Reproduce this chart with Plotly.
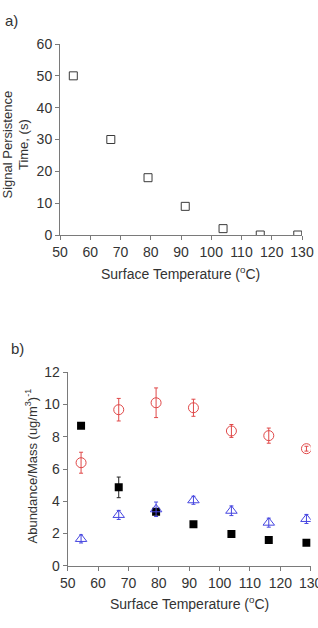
import plotly.graph_objects as go

# Data
temps = [54.4, 66.8, 79.1, 91.4, 103.9, 116.2, 128.6]
persistence = [50, 30, 18, 9, 2, 0, 0]

red_vals = [6.39, 9.68, 10.11, 9.80, 8.36, 8.07, 7.26]
red_err = [0.65, 0.70, 0.92, 0.53, 0.40, 0.47, 0.15]
black_vals = [8.69, 4.86, 3.35, 2.57, 1.97, 1.59, 1.43]
black_err = [0.0, 0.64, 0.15, 0.0, 0.0, 0.0, 0.0]
blue_vals = [1.66, 3.15, 3.50, 4.06, 3.41, 2.67, 2.90]
blue_err = [0.25, 0.28, 0.45, 0.25, 0.30, 0.28, 0.28]

x_ticks = [50, 60, 70, 80, 90, 100, 110, 120, 130]
y1_ticks = [0, 10, 20, 30, 40, 50, 60]
y2_ticks = [0, 2, 4, 6, 8, 10, 12]

W, H = 318, 628
FONT = "Liberation Sans, Arial, sans-serif"
TXT = "#333333"
AX = "#7a7a7a"
RED = "#e04848"
BLUE = "#4646e0"

fig = go.Figure()

fig.add_trace(go.Scatter(
    x=temps, y=persistence, mode="markers", xaxis="x", yaxis="y",
    marker=dict(symbol="square-open", size=8, color="#3a3a3a", line=dict(width=1, color="#3a3a3a")),
    showlegend=False))

fig.add_trace(go.Scatter(
    x=temps, y=red_vals, mode="markers", xaxis="x2", yaxis="y2",
    error_y=dict(type="data", array=red_err, color=RED, thickness=1, width=2),
    marker=dict(symbol="circle-open", size=10, color=RED, line=dict(width=1, color=RED)),
    showlegend=False))

fig.add_trace(go.Scatter(
    x=temps, y=black_vals, mode="markers", xaxis="x2", yaxis="y2",
    error_y=dict(type="data", array=black_err, color="#222222", thickness=1, width=2),
    marker=dict(symbol="square", size=8, color="#000000"),
    showlegend=False))

fig.add_trace(go.Scatter(
    x=temps, y=blue_vals, mode="markers", xaxis="x2", yaxis="y2",
    error_y=dict(type="data", array=blue_err, color=BLUE, thickness=1, width=2),
    marker=dict(symbol="triangle-up-open", size=10, color=BLUE, line=dict(width=1, color=BLUE)),
    showlegend=False))

axis_common = dict(
    showgrid=False, zeroline=False, showline=True, linecolor=AX, linewidth=1,
    ticks="outside", ticklen=4, tickcolor=AX, tickwidth=1, automargin=False,
    ticklabeloverflow="allow",
    tickfont=dict(family=FONT, size=14, color=TXT), mirror=False,
)

fig.update_layout(
    width=W, height=H,
    margin=dict(l=0, r=0, t=0, b=0, pad=0, autoexpand=False),
    paper_bgcolor="white", plot_bgcolor="white",
    font=dict(family=FONT, size=13, color=TXT),
    xaxis=dict(domain=[60 / W, 302 / W], range=[50, 130], tickvals=x_ticks,
               anchor="y", **axis_common),
    yaxis=dict(domain=[(H - 235) / H, (H - 44) / H], range=[0, 60], tickvals=y1_ticks,
               anchor="x", **axis_common),
    xaxis2=dict(domain=[67.7 / W, 310.7 / W], range=[50, 130], tickvals=x_ticks,
                anchor="y2", **axis_common),
    yaxis2=dict(domain=[(H - 565.7) / H, (H - 372.3) / H], range=[0, 12], tickvals=y2_ticks,
                anchor="x2", **axis_common),
    annotations=[
        dict(text="a)", x=3 / W, y=1 - 20.5 / H, xref="paper", yref="paper",
             xanchor="left", yanchor="middle", showarrow=False,
             font=dict(family=FONT, size=15, color=TXT)),
        dict(text="b)", x=9 / W, y=1 - 348 / H, xref="paper", yref="paper",
             xanchor="left", yanchor="middle", showarrow=False,
             font=dict(family=FONT, size=15, color=TXT)),
        dict(text="Signal Persistence<br>Time, (s)", x=15.5 / W, y=1 - 145 / H,
             xref="paper", yref="paper", xanchor="center", yanchor="middle",
             textangle=-90, showarrow=False, font=dict(family=FONT, size=13, color=TXT)),
        dict(text="Surface Temperature (<sup>o</sup>C)", x=180.5 / W, y=1 - 273 / H,
             xref="paper", yref="paper", xanchor="center", yanchor="middle",
             showarrow=False, font=dict(family=FONT, size=14, color=TXT)),
        dict(text="Abundance/Mass (ug/m<sup>3</sup>)<sup>-1</sup>", x=31.5 / W, y=1 - 466 / H,
             xref="paper", yref="paper", xanchor="center", yanchor="middle",
             textangle=-90, showarrow=False, font=dict(family=FONT, size=13, color=TXT)),
        dict(text="Surface Temperature (<sup>o</sup>C)", x=189 / W, y=1 - 603 / H,
             xref="paper", yref="paper", xanchor="center", yanchor="middle",
             showarrow=False, font=dict(family=FONT, size=14, color=TXT)),
    ],
)

fig.write_html("out.html")
